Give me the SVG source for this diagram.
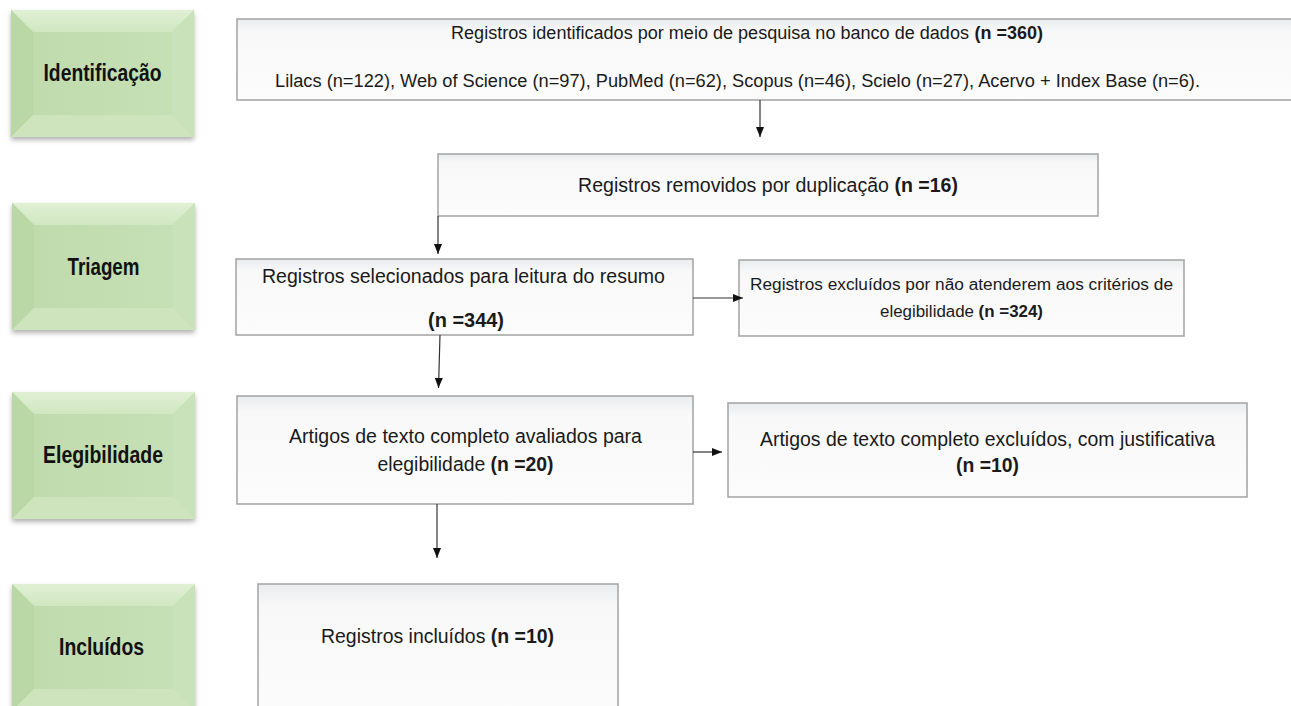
<svg xmlns="http://www.w3.org/2000/svg" width="1291" height="706" viewBox="0 0 1291 706">
<style>
.lbl{font-family:"Liberation Sans",Arial,sans-serif;font-size:23px;font-weight:bold;fill:#111;text-anchor:middle}
.t{font-family:"Liberation Sans",Arial,sans-serif;font-size:19.5px;fill:#1a1a1a;text-anchor:middle}
.s{text-anchor:start}
.t1{font-size:18px}
.t4{font-size:17.3px}
.b{font-weight:bold}
.box{fill:url(#wg);stroke:#a3a3a3;stroke-width:1.5}
.conn{stroke:#333;stroke-width:1.2;fill:none;marker-end:url(#ah)}
</style>
<defs>
<linearGradient id="wg" x1="0" y1="0" x2="0" y2="1">
<stop offset="0" stop-color="#e9ebed"/>
<stop offset="0.15" stop-color="#f8f8f9"/>
<stop offset="1" stop-color="#fcfcfc"/>
</linearGradient>
<linearGradient id="face" x1="0" y1="0" x2="1" y2="0">
<stop offset="0" stop-color="#bfdaab"/>
<stop offset="1" stop-color="#c7e1b7"/>
</linearGradient>
<linearGradient id="topb" x1="0" y1="0" x2="0" y2="1">
<stop offset="0" stop-color="#e0f0d4"/>
<stop offset="1" stop-color="#d0e7c1"/>
</linearGradient>
<filter id="sh" x="-10%" y="-10%" width="120%" height="130%">
<feDropShadow dx="0" dy="3" stdDeviation="2.5" flood-color="#000" flood-opacity="0.3"/>
</filter>
<marker id="ah" viewBox="0 0 10 8" refX="10" refY="4" markerWidth="10" markerHeight="8" markerUnits="userSpaceOnUse" orient="auto">
<path d="M0,0 L10,4 L0,8 z" fill="#111"/>
</marker>
<g id="gbox">
<rect x="0" y="0" width="183" height="127" fill="url(#face)" filter="url(#sh)"/>
<polygon points="0,0 183,0 161,22 22,22" fill="url(#topb)"/>
<polygon points="0,0 22,22 22,105 0,127" fill="#bad7a6"/>
<polygon points="183,0 183,127 161,105 161,22" fill="#c9e2b9"/>
<polygon points="0,127 22,105 161,105 183,127" fill="#cde4bd"/>
</g>
</defs>
<rect width="1291" height="706" fill="#fff"/>

<g id="stage-identificacao">
<use href="#gbox" x="11" y="10"/>
<text class="lbl" x="102.5" y="81" textLength="118" lengthAdjust="spacingAndGlyphs">Identificação</text>
</g>
<g id="stage-triagem">
<use href="#gbox" x="12" y="203"/>
<text class="lbl" x="103.5" y="275" textLength="72" lengthAdjust="spacingAndGlyphs">Triagem</text>
</g>
<g id="stage-elegibilidade">
<use href="#gbox" x="12" y="392"/>
<text class="lbl" x="103" y="463" textLength="120" lengthAdjust="spacingAndGlyphs">Elegibilidade</text>
</g>
<g id="stage-incluidos">
<use href="#gbox" x="12" y="584"/>
<text class="lbl" x="101.5" y="655" textLength="85" lengthAdjust="spacingAndGlyphs">Incluídos</text>
</g>

<g id="n-identificados">
<rect class="box" x="237" y="19" width="1070" height="81"/>
<text class="t t1 s" x="451" y="39" textLength="518" lengthAdjust="spacingAndGlyphs">Registros identificados por meio de pesquisa no banco de dados</text>
<text class="t t1 s b" x="974.5" y="39" textLength="68.5" lengthAdjust="spacingAndGlyphs">(n =360)</text>
<text class="t t1" x="737.5" y="87" textLength="925" lengthAdjust="spacingAndGlyphs">Lilacs (n=122), Web of Science (n=97), PubMed (n=62), Scopus (n=46), Scielo (n=27), Acervo + Index Base (n=6).</text>
</g>
<g id="n-removidos">
<rect class="box" x="438" y="154" width="660" height="62"/>
<text class="t s" x="578" y="192" textLength="311" lengthAdjust="spacingAndGlyphs">Registros removidos por duplicação</text>
<text class="t s b" x="894.5" y="192" textLength="63.5" lengthAdjust="spacingAndGlyphs">(n =16)</text>
</g>
<g id="n-selecionados">
<rect class="box" x="236" y="259" width="457" height="76"/>
<text class="t" x="463.5" y="283" textLength="403" lengthAdjust="spacingAndGlyphs">Registros selecionados para leitura do resumo</text>
<text class="t b" x="466" y="327" textLength="76" lengthAdjust="spacingAndGlyphs">(n =344)</text>
</g>
<g id="n-excluidos">
<rect class="box" x="739" y="260" width="445" height="76"/>
<text class="t t4" x="961.5" y="290" textLength="423" lengthAdjust="spacingAndGlyphs">Registros excluídos por não atenderem aos critérios de</text>
<text class="t t4 s" x="880" y="317" textLength="94" lengthAdjust="spacingAndGlyphs">elegibilidade</text>
<text class="t t4 s b" x="978.6" y="317" textLength="64.4" lengthAdjust="spacingAndGlyphs">(n =324)</text>
</g>
<g id="n-avaliados">
<rect class="box" x="237" y="396" width="456" height="108"/>
<text class="t" x="465.5" y="443" textLength="353" lengthAdjust="spacingAndGlyphs">Artigos de texto completo avaliados para</text>
<text class="t s" x="377.5" y="471" textLength="107.7" lengthAdjust="spacingAndGlyphs">elegibilidade</text>
<text class="t s b" x="490.5" y="471" textLength="63" lengthAdjust="spacingAndGlyphs">(n =20)</text>
</g>
<g id="n-artigos-excluidos">
<rect class="box" x="728" y="403" width="519" height="94"/>
<text class="t" x="987.5" y="446" textLength="455" lengthAdjust="spacingAndGlyphs">Artigos de texto completo excluídos, com justificativa</text>
<text class="t b" x="987.5" y="472" textLength="63" lengthAdjust="spacingAndGlyphs">(n =10)</text>
</g>
<g id="n-incluidos">
<rect class="box" x="258" y="584" width="360" height="140"/>
<text class="t s" x="321" y="643" textLength="164.4" lengthAdjust="spacingAndGlyphs">Registros incluídos</text>
<text class="t s b" x="490.8" y="643" textLength="63.3" lengthAdjust="spacingAndGlyphs">(n =10)</text>
</g>

<g id="connectors">
<line class="conn" x1="760" y1="100" x2="760" y2="137"/>
<line class="conn" x1="438" y1="216" x2="438" y2="254"/>
<line class="conn" x1="693" y1="298" x2="743" y2="298"/>
<line class="conn" x1="440" y1="335" x2="438.5" y2="388"/>
<line class="conn" x1="693" y1="452" x2="722" y2="452"/>
<line class="conn" x1="437" y1="504" x2="437" y2="558"/>
</g>
</svg>
